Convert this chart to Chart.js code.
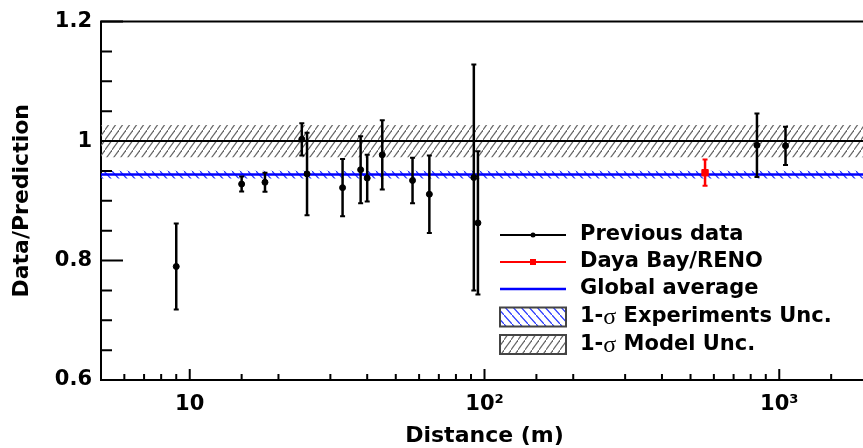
<!DOCTYPE html>
<html>
<head>
<meta charset="utf-8">
<script src="https://cdn.jsdelivr.net/npm/chart.js@4.4.0/dist/chart.umd.min.js"></script>
<style>
  html, body { margin: 0; padding: 0; background: #fff; overflow: hidden; }
  #wrap { width: 880px; height: 448px; }
</style>
</head>
<body>
<div id="wrap"><canvas id="ratioChart"></canvas></div>
<script>
// previous reactor experiments
const prevDistances = [9, 15, 18, 24, 25, 33, 38, 40, 45, 57, 65, 92, 95, 840, 1050];
const prevRatios = [0.790, 0.928, 0.931, 1.003, 0.945, 0.922, 0.952, 0.938, 0.977, 0.934, 0.911, 0.939, 0.863, 0.993, 0.992];
const prevErrors = [0.072, 0.0125, 0.016, 0.027, 0.069, 0.048, 0.056, 0.039, 0.058, 0.038, 0.065, 0.189, 0.12, 0.053, 0.032];

// Daya Bay / RENO
const dybDistances = [560];
const dybRatios = [0.947];
const dybErrors = [0.022];

const globalAverage = 0.944;
const globalAverageErr = 0.0065;
const modelCenter = 1.0;
const modelErr = 0.027;

const xRange = [5, 2000];
const yRange = [0.6, 1.2];
const yTickLabels = [0.6, 0.8, 1.0, 1.2];
const xTickLabels = { 10: '10', 100: '10²', 1000: '10³' };

const legendLabels = ['Previous data', 'Daya Bay/RENO', 'Global average', '1-σ Experiments Unc.', '1-σ Model Unc.'];

const FONT = "'DejaVu Sans', sans-serif";

// one diagonal stroke per tile; w = horizontal spacing, h sets the slope
function hatch(color, dir, w, h) {
  const c = document.createElement('canvas');
  c.width = w; c.height = h;
  const g = c.getContext('2d');
  g.strokeStyle = color;
  g.lineWidth = 1.2;
  g.beginPath();
  if (dir > 0) {
    g.moveTo(-0.5, h + 0.5); g.lineTo(w + 0.5, -0.5);
  } else {
    g.moveTo(-0.5, -0.5); g.lineTo(w + 0.5, h + 0.5);
  }
  g.stroke();
  return g.createPattern(c, 'repeat');
}

const grayHatch = hatch('#666', 1, 7, 10);
const blueHatch = hatch('#2233ff', -1, 8, 9);

function flatLine(v) {
  return [{ x: xRange[0], y: v }, { x: xRange[1], y: v }];
}

const errorBars = {
  id: 'errorBars',
  afterDatasetsDraw(chart) {
    const { ctx, scales: { x, y } } = chart;
    const sets = [
      [prevDistances, prevRatios, prevErrors, '#000'],
      [dybDistances, dybRatios, dybErrors, '#ff0000']
    ];
    ctx.save();
    sets.forEach(([ds, rs, es, color]) => {
      ctx.strokeStyle = color;
      ds.forEach((d, i) => {
        const px = x.getPixelForValue(d);
        const top = y.getPixelForValue(rs[i] + es[i]);
        const bot = y.getPixelForValue(rs[i] - es[i]);
        ctx.lineWidth = 2.5;
        ctx.beginPath();
        ctx.moveTo(px, top); ctx.lineTo(px, bot);
        ctx.stroke();
        ctx.lineWidth = 2;
        ctx.beginPath();
        ctx.moveTo(px - 2.5, top); ctx.lineTo(px + 2.5, top);
        ctx.moveTo(px - 2.5, bot); ctx.lineTo(px + 2.5, bot);
        ctx.stroke();
      });
    });
    ctx.restore();
  }
};

function drawLegend(ctx) {
  const x0 = 500, x1 = 566, tx = 580;
  const rows = [235, 262, 289, 317, 344.5];
  ctx.save();
  // line entries
  ctx.lineWidth = 2;
  ctx.strokeStyle = '#000';
  ctx.beginPath(); ctx.moveTo(x0, rows[0]); ctx.lineTo(x1, rows[0]); ctx.stroke();
  ctx.fillStyle = '#000';
  ctx.beginPath(); ctx.arc((x0 + x1) / 2, rows[0], 2.5, 0, Math.PI * 2); ctx.fill();

  ctx.strokeStyle = '#ff0000';
  ctx.beginPath(); ctx.moveTo(x0, rows[1]); ctx.lineTo(x1, rows[1]); ctx.stroke();
  ctx.fillStyle = '#ff0000';
  ctx.fillRect((x0 + x1) / 2 - 3, rows[1] - 3, 6, 6);

  ctx.strokeStyle = '#0000ff';
  ctx.lineWidth = 2.5;
  ctx.beginPath(); ctx.moveTo(x0, rows[2]); ctx.lineTo(x1, rows[2]); ctx.stroke();

  // hatched boxes
  [[rows[3], blueHatch], [rows[4], grayHatch]].forEach(([ry, pat]) => {
    ctx.fillStyle = pat;
    ctx.fillRect(x0, ry - 9.5, x1 - x0, 19);
    ctx.strokeStyle = '#444';
    ctx.lineWidth = 2;
    ctx.strokeRect(x0, ry - 9.5, x1 - x0, 19);
  });

  // texts
  ctx.fillStyle = '#000';
  ctx.textBaseline = 'middle';
  ctx.textAlign = 'left';
  legendLabels.forEach((label, i) => {
    const parts = label.split('σ');
    let cx = tx;
    parts.forEach((p, j) => {
      if (j > 0) {
        ctx.font = "24px 'Liberation Serif', serif";
        ctx.fillText('σ', cx, rows[i] + 1);
        cx += ctx.measureText('σ').width;
      }
      ctx.font = 'bold 21px ' + FONT;
      ctx.fillText(p, cx, rows[i]);
      cx += ctx.measureText(p).width;
    });
  });
  ctx.restore();
}

const frameAndTicks = {
  id: 'frameAndTicks',
  afterDraw(chart) {
    const { ctx, chartArea: a, scales: { x, y } } = chart;
    ctx.save();
    ctx.strokeStyle = '#000';
    ctx.lineWidth = 2;
    ctx.beginPath();
    ctx.moveTo(a.left - 1, a.top); ctx.lineTo(a.right, a.top);
    ctx.stroke();
    // inward ticks
    ctx.beginPath();
    y.ticks.forEach(t => {
      const major = yTickLabels.some(v => Math.abs(v - t.value) < 1e-6);
      const py = y.getPixelForValue(t.value);
      ctx.moveTo(a.left, py); ctx.lineTo(a.left + (major ? 22 : 11), py);
    });
    x.ticks.forEach(t => {
      const major = xTickLabels[Math.round(t.value)] !== undefined;
      const px = x.getPixelForValue(t.value);
      ctx.moveTo(px, a.bottom); ctx.lineTo(px, a.bottom - (major ? 11 : 6));
    });
    ctx.stroke();
    ctx.restore();
    drawLegend(ctx);
  }
};

new Chart(document.getElementById('ratioChart'), {
  type: 'scatter',
  data: {
    datasets: [
      {
        label: legendLabels[0],
        data: prevDistances.map((d, i) => ({ x: d, y: prevRatios[i] })),
        backgroundColor: '#000', borderColor: '#000',
        pointRadius: 3, pointStyle: 'circle'
      },
      {
        label: legendLabels[1],
        data: dybDistances.map((d, i) => ({ x: d, y: dybRatios[i] })),
        backgroundColor: '#ff0000', borderColor: '#ff0000',
        pointRadius: 4.5, pointStyle: 'rect'
      },
      {
        type: 'line', label: legendLabels[2],
        data: flatLine(globalAverage),
        borderColor: '#0000ff', borderWidth: 2.5, pointRadius: 0, fill: false
      },
      {
        type: 'line', label: 'Model',
        data: flatLine(modelCenter),
        borderColor: '#000', borderWidth: 2, pointRadius: 0, fill: false
      },
      {
        type: 'line', label: legendLabels[3],
        data: flatLine(globalAverage + globalAverageErr),
        borderWidth: 0, borderColor: 'rgba(0,0,0,0)', pointRadius: 0,
        backgroundColor: blueHatch,
        fill: { value: globalAverage - globalAverageErr }
      },
      {
        type: 'line', label: legendLabels[4],
        data: flatLine(modelCenter + modelErr),
        borderWidth: 0, borderColor: 'rgba(0,0,0,0)', pointRadius: 0,
        backgroundColor: grayHatch,
        fill: { value: modelCenter - modelErr }
      }
    ]
  },
  options: {
    responsive: true,
    maintainAspectRatio: false,
    animation: false,
    layout: { padding: { top: 19, right: 8, bottom: 0, left: 0 } },
    plugins: {
      legend: { display: false },
      tooltip: { enabled: false }
    },
    scales: {
      x: {
        type: 'logarithmic',
        min: xRange[0],
        max: xRange[1],
        afterFit: s => { s.height = 68; },
        grid: { display: false, drawTicks: false },
        border: { display: true, color: '#000', width: 2 },
        ticks: {
          autoSkip: false,
          maxRotation: 0,
          padding: 12,
          color: '#000',
          font: { family: FONT, size: 21, weight: 'bold' },
          callback: v => xTickLabels[Math.round(v)] || ''
        },
        title: {
          display: true,
          text: 'Distance (m)',
          color: '#000',
          font: { family: FONT, size: 22, weight: 'bold', lineHeight: 1 },
          padding: { top: 0, bottom: 1 }
        }
      },
      y: {
        min: yRange[0],
        max: yRange[1],
        afterFit: s => { s.width = 101; },
        grid: { display: false, drawTicks: false },
        border: { display: true, color: '#000', width: 2 },
        ticks: {
          stepSize: 0.05,
          autoSkip: false,
          padding: 9,
          color: '#000',
          font: { family: FONT, size: 21, weight: 'bold' },
          callback: v => {
            const hit = yTickLabels.find(t => Math.abs(t - v) < 1e-6);
            return hit === undefined ? '' : String(hit);
          }
        },
        title: {
          display: true,
          text: 'Data/Prediction',
          color: '#000',
          font: { family: FONT, size: 22, weight: 'bold', lineHeight: 1 },
          padding: { top: 11, bottom: 0 }
        }
      }
    }
  },
  plugins: [errorBars, frameAndTicks]
});
</script>
</body>
</html>
